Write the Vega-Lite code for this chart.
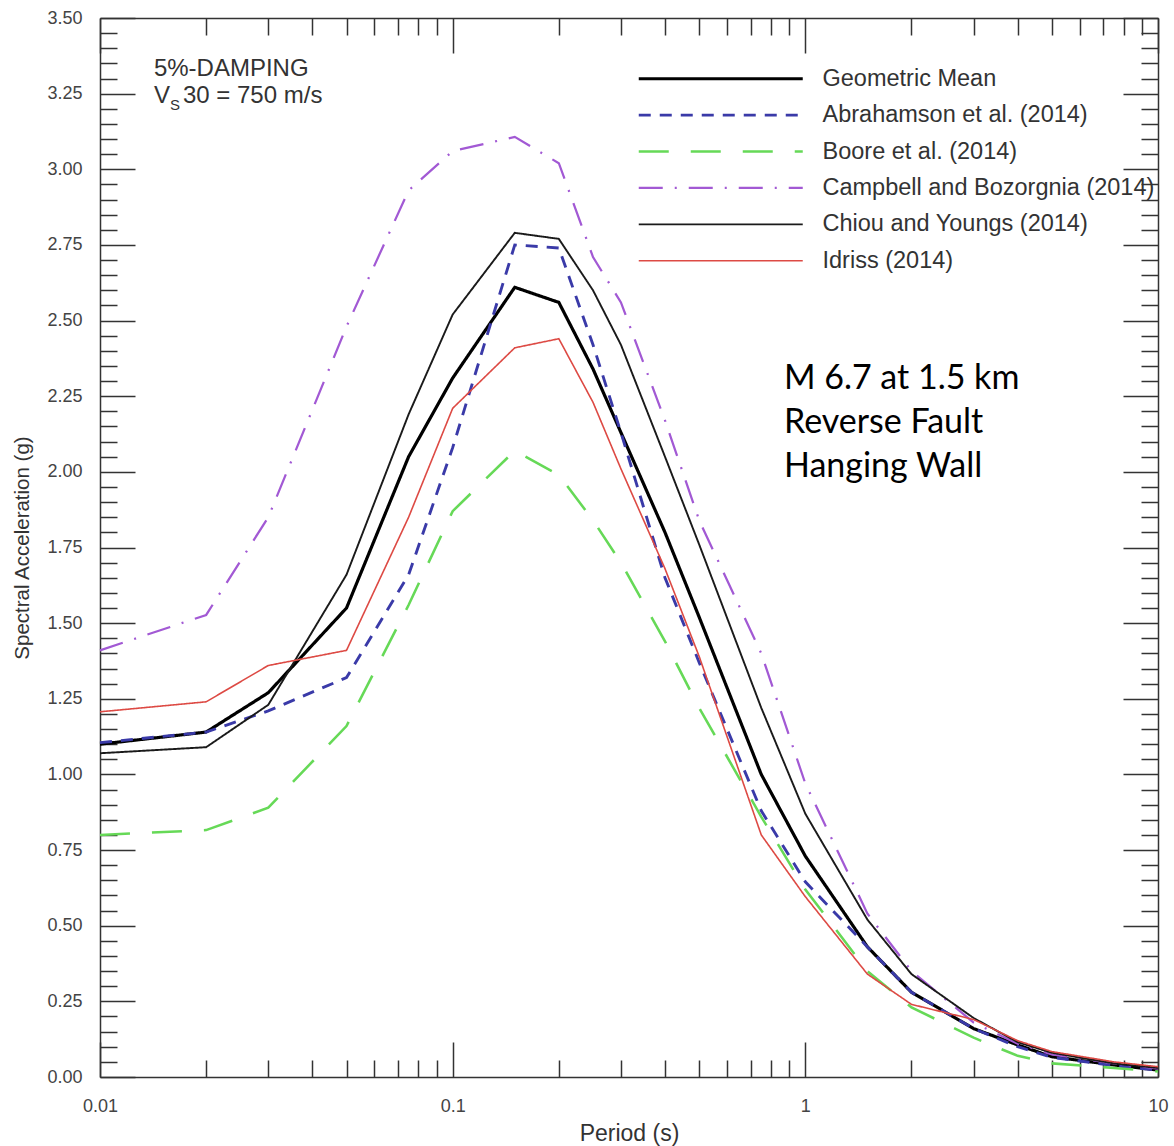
{
  "$schema": "https://vega.github.io/schema/vega-lite/v6.json",
  "width": 1058,
  "height": 1059,
  "autosize": "none",
  "padding": {"left": 100, "top": 18, "right": 16, "bottom": 69},
  "background": "white",
  "config": {"view": {"stroke": null}, "font": "Liberation Sans"},
  "datasets": {
    "spectra": [
      {"model":"Geometric Mean","T":0.01,"SA":1.10},{"model":"Geometric Mean","T":0.02,"SA":1.14},{"model":"Geometric Mean","T":0.03,"SA":1.27},{"model":"Geometric Mean","T":0.05,"SA":1.55},{"model":"Geometric Mean","T":0.075,"SA":2.05},{"model":"Geometric Mean","T":0.1,"SA":2.31},{"model":"Geometric Mean","T":0.15,"SA":2.61},{"model":"Geometric Mean","T":0.2,"SA":2.56},{"model":"Geometric Mean","T":0.25,"SA":2.34},{"model":"Geometric Mean","T":0.3,"SA":2.13},{"model":"Geometric Mean","T":0.4,"SA":1.80},{"model":"Geometric Mean","T":0.5,"SA":1.52},{"model":"Geometric Mean","T":0.75,"SA":1.00},{"model":"Geometric Mean","T":1,"SA":0.73},{"model":"Geometric Mean","T":1.5,"SA":0.43},{"model":"Geometric Mean","T":2,"SA":0.28},{"model":"Geometric Mean","T":3,"SA":0.16},{"model":"Geometric Mean","T":4,"SA":0.106},{"model":"Geometric Mean","T":5,"SA":0.067},{"model":"Geometric Mean","T":7.5,"SA":0.04},{"model":"Geometric Mean","T":10,"SA":0.023},
      {"model":"Abrahamson et al. (2014)","T":0.01,"SA":1.105},{"model":"Abrahamson et al. (2014)","T":0.02,"SA":1.14},{"model":"Abrahamson et al. (2014)","T":0.03,"SA":1.21},{"model":"Abrahamson et al. (2014)","T":0.05,"SA":1.32},{"model":"Abrahamson et al. (2014)","T":0.075,"SA":1.66},{"model":"Abrahamson et al. (2014)","T":0.1,"SA":2.08},{"model":"Abrahamson et al. (2014)","T":0.15,"SA":2.75},{"model":"Abrahamson et al. (2014)","T":0.2,"SA":2.74},{"model":"Abrahamson et al. (2014)","T":0.25,"SA":2.42},{"model":"Abrahamson et al. (2014)","T":0.3,"SA":2.13},{"model":"Abrahamson et al. (2014)","T":0.4,"SA":1.65},{"model":"Abrahamson et al. (2014)","T":0.5,"SA":1.37},{"model":"Abrahamson et al. (2014)","T":0.75,"SA":0.88},{"model":"Abrahamson et al. (2014)","T":1,"SA":0.645},{"model":"Abrahamson et al. (2014)","T":1.5,"SA":0.43},{"model":"Abrahamson et al. (2014)","T":2,"SA":0.28},{"model":"Abrahamson et al. (2014)","T":3,"SA":0.16},{"model":"Abrahamson et al. (2014)","T":4,"SA":0.10},{"model":"Abrahamson et al. (2014)","T":5,"SA":0.065},{"model":"Abrahamson et al. (2014)","T":7.5,"SA":0.038},{"model":"Abrahamson et al. (2014)","T":10,"SA":0.022},
      {"model":"Boore et al. (2014)","T":0.01,"SA":0.80},{"model":"Boore et al. (2014)","T":0.02,"SA":0.816},{"model":"Boore et al. (2014)","T":0.03,"SA":0.89},{"model":"Boore et al. (2014)","T":0.05,"SA":1.16},{"model":"Boore et al. (2014)","T":0.075,"SA":1.56},{"model":"Boore et al. (2014)","T":0.1,"SA":1.87},{"model":"Boore et al. (2014)","T":0.15,"SA":2.07},{"model":"Boore et al. (2014)","T":0.2,"SA":1.99},{"model":"Boore et al. (2014)","T":0.25,"SA":1.84},{"model":"Boore et al. (2014)","T":0.3,"SA":1.70},{"model":"Boore et al. (2014)","T":0.4,"SA":1.44},{"model":"Boore et al. (2014)","T":0.5,"SA":1.22},{"model":"Boore et al. (2014)","T":0.75,"SA":0.86},{"model":"Boore et al. (2014)","T":1,"SA":0.62},{"model":"Boore et al. (2014)","T":1.5,"SA":0.35},{"model":"Boore et al. (2014)","T":2,"SA":0.23},{"model":"Boore et al. (2014)","T":3,"SA":0.13},{"model":"Boore et al. (2014)","T":4,"SA":0.07},{"model":"Boore et al. (2014)","T":5,"SA":0.045},{"model":"Boore et al. (2014)","T":7.5,"SA":0.03},{"model":"Boore et al. (2014)","T":10,"SA":0.018},
      {"model":"Campbell and Bozorgnia (2014)","T":0.01,"SA":1.41},{"model":"Campbell and Bozorgnia (2014)","T":0.02,"SA":1.527},{"model":"Campbell and Bozorgnia (2014)","T":0.03,"SA":1.85},{"model":"Campbell and Bozorgnia (2014)","T":0.05,"SA":2.48},{"model":"Campbell and Bozorgnia (2014)","T":0.075,"SA":2.93},{"model":"Campbell and Bozorgnia (2014)","T":0.1,"SA":3.06},{"model":"Campbell and Bozorgnia (2014)","T":0.15,"SA":3.107},{"model":"Campbell and Bozorgnia (2014)","T":0.2,"SA":3.02},{"model":"Campbell and Bozorgnia (2014)","T":0.25,"SA":2.71},{"model":"Campbell and Bozorgnia (2014)","T":0.3,"SA":2.56},{"model":"Campbell and Bozorgnia (2014)","T":0.4,"SA":2.17},{"model":"Campbell and Bozorgnia (2014)","T":0.5,"SA":1.84},{"model":"Campbell and Bozorgnia (2014)","T":0.75,"SA":1.40},{"model":"Campbell and Bozorgnia (2014)","T":1,"SA":0.97},{"model":"Campbell and Bozorgnia (2014)","T":1.5,"SA":0.54},{"model":"Campbell and Bozorgnia (2014)","T":2,"SA":0.35},{"model":"Campbell and Bozorgnia (2014)","T":3,"SA":0.18},{"model":"Campbell and Bozorgnia (2014)","T":4,"SA":0.11},{"model":"Campbell and Bozorgnia (2014)","T":5,"SA":0.075},{"model":"Campbell and Bozorgnia (2014)","T":7.5,"SA":0.045},{"model":"Campbell and Bozorgnia (2014)","T":10,"SA":0.028},
      {"model":"Chiou and Youngs (2014)","T":0.01,"SA":1.07},{"model":"Chiou and Youngs (2014)","T":0.02,"SA":1.09},{"model":"Chiou and Youngs (2014)","T":0.03,"SA":1.23},{"model":"Chiou and Youngs (2014)","T":0.05,"SA":1.66},{"model":"Chiou and Youngs (2014)","T":0.075,"SA":2.19},{"model":"Chiou and Youngs (2014)","T":0.1,"SA":2.52},{"model":"Chiou and Youngs (2014)","T":0.15,"SA":2.79},{"model":"Chiou and Youngs (2014)","T":0.2,"SA":2.77},{"model":"Chiou and Youngs (2014)","T":0.25,"SA":2.60},{"model":"Chiou and Youngs (2014)","T":0.3,"SA":2.42},{"model":"Chiou and Youngs (2014)","T":0.4,"SA":2.05},{"model":"Chiou and Youngs (2014)","T":0.5,"SA":1.76},{"model":"Chiou and Youngs (2014)","T":0.75,"SA":1.22},{"model":"Chiou and Youngs (2014)","T":1,"SA":0.87},{"model":"Chiou and Youngs (2014)","T":1.5,"SA":0.52},{"model":"Chiou and Youngs (2014)","T":2,"SA":0.34},{"model":"Chiou and Youngs (2014)","T":3,"SA":0.195},{"model":"Chiou and Youngs (2014)","T":4,"SA":0.115},{"model":"Chiou and Youngs (2014)","T":5,"SA":0.08},{"model":"Chiou and Youngs (2014)","T":7.5,"SA":0.045},{"model":"Chiou and Youngs (2014)","T":10,"SA":0.03},
      {"model":"Idriss (2014)","T":0.01,"SA":1.207},{"model":"Idriss (2014)","T":0.02,"SA":1.24},{"model":"Idriss (2014)","T":0.03,"SA":1.36},{"model":"Idriss (2014)","T":0.05,"SA":1.41},{"model":"Idriss (2014)","T":0.075,"SA":1.85},{"model":"Idriss (2014)","T":0.1,"SA":2.21},{"model":"Idriss (2014)","T":0.15,"SA":2.41},{"model":"Idriss (2014)","T":0.2,"SA":2.44},{"model":"Idriss (2014)","T":0.25,"SA":2.23},{"model":"Idriss (2014)","T":0.3,"SA":2.01},{"model":"Idriss (2014)","T":0.4,"SA":1.68},{"model":"Idriss (2014)","T":0.5,"SA":1.39},{"model":"Idriss (2014)","T":0.75,"SA":0.80},{"model":"Idriss (2014)","T":1,"SA":0.596},{"model":"Idriss (2014)","T":1.5,"SA":0.34},{"model":"Idriss (2014)","T":2,"SA":0.24},{"model":"Idriss (2014)","T":3,"SA":0.19},{"model":"Idriss (2014)","T":4,"SA":0.12},{"model":"Idriss (2014)","T":5,"SA":0.084},{"model":"Idriss (2014)","T":7.5,"SA":0.05},{"model":"Idriss (2014)","T":10,"SA":0.034}
    ],
    "notesMain": [
      {"T":0.01422,"SA":3.308,"txt":"5%-DAMPING"},
      {"T":0.01422,"SA":3.219,"txt":"V"},
      {"T":0.01719,"SA":3.219,"txt":"30 = 750 m/s"}
    ],
    "notesSub": [
      {"T":0.01579,"SA":3.196,"txt":"S"}
    ],
    "notesCase": [
      {"T":0.8696,"SA":2.2726,"txt":"M 6.7 at 1.5 km"},
      {"T":0.8696,"SA":2.128,"txt":"Reverse Fault"},
      {"T":0.8696,"SA":1.984,"txt":"Hanging Wall"}
    ]
  },
  "layer": [
    {
      "data": {"name": "spectra"},
      "mark": {"type": "line", "interpolate": "linear"},
      "encoding": {
        "x": {
          "field": "T", "type": "quantitative",
          "scale": {"type": "log", "domain": [0.01, 10], "nice": false},
          "axis": {
            "orient": "bottom",
            "title": "Period (s)", "titleFont": "Liberation Sans", "titleFontSize": 23, "titleFontWeight": "normal", "titleColor": "#333", "titlePadding": -11,
            "values": [0.01,0.02,0.03,0.04,0.05,0.06,0.07,0.08,0.09,0.1,0.2,0.3,0.4,0.5,0.6,0.7,0.8,0.9,1,2,3,4,5,6,7,8,9,10],
            "labelExpr": "abs(log(datum.value)/LN10 - round(log(datum.value)/LN10)) < 0.001 ? format(datum.value, '~g') : ''",
            "labelFont": "Liberation Sans", "labelFontSize": 18, "labelColor": "#444", "labelFlush": false, "labelOverlap": false, "labelBound": false,
            "labelPadding": 55,
            "tickSize": {"condition": {"test": "abs(log(datum.value)/LN10 - round(log(datum.value)/LN10)) < 0.001", "value": -35}, "value": -17},
            "tickColor": "#333", "tickWidth": 1.5,
            "domainColor": "#333", "domainWidth": 1.5, "grid": false
          }
        },
        "y": {
          "field": "SA", "type": "quantitative",
          "scale": {"domain": [0, 3.5], "nice": false},
          "axis": {
            "orient": "left",
            "title": "Spectral Acceleration (g)", "titleFont": "Liberation Sans", "titleFontSize": 20.5, "titleFontWeight": "normal", "titleColor": "#333", "titlePadding": 14,
            "values": [0,0.05,0.1,0.15,0.2,0.25,0.3,0.35,0.4,0.45,0.5,0.55,0.6,0.65,0.7,0.75,0.8,0.85,0.9,0.95,1,1.05,1.1,1.15,1.2,1.25,1.3,1.35,1.4,1.45,1.5,1.55,1.6,1.65,1.7,1.75,1.8,1.85,1.9,1.95,2,2.05,2.1,2.15,2.2,2.25,2.3,2.35,2.4,2.45,2.5,2.55,2.6,2.65,2.7,2.75,2.8,2.85,2.9,2.95,3,3.05,3.1,3.15,3.2,3.25,3.3,3.35,3.4,3.45,3.5],
            "labelExpr": "abs(datum.value*4 - round(datum.value*4)) < 0.001 ? format(datum.value, '.2f') : ''",
            "labelFont": "Liberation Sans", "labelFontSize": 18, "labelColor": "#444", "labelFlush": false, "labelOverlap": false, "labelBound": false,
            "labelPadding": 53,
            "tickSize": {"condition": {"test": "abs(datum.value*4 - round(datum.value*4)) < 0.001", "value": -35}, "value": -17},
            "tickColor": "#333", "tickWidth": 1.5,
            "domainColor": "#333", "domainWidth": 1.5, "grid": false
          }
        },
        "color": {
          "field": "model", "type": "nominal",
          "scale": {
            "domain": ["Geometric Mean","Abrahamson et al. (2014)","Boore et al. (2014)","Campbell and Bozorgnia (2014)","Chiou and Youngs (2014)","Idriss (2014)"],
            "range": ["#000000","#3a3aa8","#66d957","#a259d4","#1a1a1a","#dd4a44"]
          },
          "legend": {"title": null, "orient": "none", "legendX": 527, "legendY": 49, "symbolType": "M0,0H32.8", "symbolSize": 100, "labelFont": "Liberation Sans", "labelFontSize": 23.5, "labelColor": "#333", "labelOffset": 172, "rowPadding": 11.4, "labelLimit": 500}
        },
        "strokeDash": {
          "field": "model", "type": "nominal",
          "scale": {
            "domain": ["Geometric Mean","Abrahamson et al. (2014)","Boore et al. (2014)","Campbell and Bozorgnia (2014)","Chiou and Youngs (2014)","Idriss (2014)"],
            "range": [[1,0],[12,9],[30,22],[24,12,2,12],[1,0],[1,0]]
          },
          "legend": {"title": null, "orient": "none", "legendX": 527, "legendY": 49, "symbolType": "M0,0H32.8", "symbolSize": 100, "labelFont": "Liberation Sans", "labelFontSize": 23.5, "labelColor": "#333", "labelOffset": 172, "rowPadding": 11.4, "labelLimit": 500}
        },
        "strokeWidth": {
          "field": "model", "type": "nominal",
          "scale": {
            "domain": ["Geometric Mean","Abrahamson et al. (2014)","Boore et al. (2014)","Campbell and Bozorgnia (2014)","Chiou and Youngs (2014)","Idriss (2014)"],
            "range": [3.2,1.6,1.6,1.6,1.3,1.5]
          },
          "legend": {"title": null, "orient": "none", "legendX": 527, "legendY": 49, "symbolType": "M0,0H32.8", "symbolSize": 100, "labelFont": "Liberation Sans", "labelFontSize": 23.5, "labelColor": "#333", "labelOffset": 172, "rowPadding": 11.4, "labelLimit": 500}
        }
      }
    },
    {
      "data": {"name": "spectra"},
      "mark": {"type": "point", "opacity": 0},
      "encoding": {
        "x": {
          "field": "T", "type": "quantitative",
          "axis": {
            "orient": "top", "title": null, "labels": false,
            "values": [0.01,0.02,0.03,0.04,0.05,0.06,0.07,0.08,0.09,0.1,0.2,0.3,0.4,0.5,0.6,0.7,0.8,0.9,1,2,3,4,5,6,7,8,9,10],
            "tickSize": {"condition": {"test": "abs(log(datum.value)/LN10 - round(log(datum.value)/LN10)) < 0.001", "value": -35}, "value": -17},
            "tickColor": "#333", "tickWidth": 1.5,
            "domainColor": "#333", "domainWidth": 1.5, "grid": false
          }
        },
        "y": {
          "field": "SA", "type": "quantitative",
          "axis": {
            "orient": "right", "title": null, "labels": false,
            "values": [0,0.05,0.1,0.15,0.2,0.25,0.3,0.35,0.4,0.45,0.5,0.55,0.6,0.65,0.7,0.75,0.8,0.85,0.9,0.95,1,1.05,1.1,1.15,1.2,1.25,1.3,1.35,1.4,1.45,1.5,1.55,1.6,1.65,1.7,1.75,1.8,1.85,1.9,1.95,2,2.05,2.1,2.15,2.2,2.25,2.3,2.35,2.4,2.45,2.5,2.55,2.6,2.65,2.7,2.75,2.8,2.85,2.9,2.95,3,3.05,3.1,3.15,3.2,3.25,3.3,3.35,3.4,3.45,3.5],
            "tickSize": {"condition": {"test": "abs(datum.value*4 - round(datum.value*4)) < 0.001", "value": -35}, "value": -17},
            "tickColor": "#333", "tickWidth": 1.5,
            "domainColor": "#333", "domainWidth": 1.5, "grid": false
          }
        }
      }
    },
    {
      "data": {"name": "notesMain"},
      "mark": {"type": "text", "align": "left", "baseline": "alphabetic", "font": "Liberation Sans", "fontSize": 24, "color": "#333"},
      "encoding": {
        "x": {"field": "T", "type": "quantitative", "axis": null},
        "y": {"field": "SA", "type": "quantitative", "axis": null},
        "text": {"field": "txt"}
      }
    },
    {
      "data": {"name": "notesSub"},
      "mark": {"type": "text", "align": "left", "baseline": "alphabetic", "font": "Liberation Sans", "fontSize": 15, "color": "#333"},
      "encoding": {
        "x": {"field": "T", "type": "quantitative", "axis": null},
        "y": {"field": "SA", "type": "quantitative", "axis": null},
        "text": {"field": "txt"}
      }
    },
    {
      "data": {"name": "notesCase"},
      "mark": {"type": "text", "align": "left", "baseline": "alphabetic", "font": "Lato", "fontSize": 34, "color": "#000"},
      "encoding": {
        "x": {"field": "T", "type": "quantitative", "axis": null},
        "y": {"field": "SA", "type": "quantitative", "axis": null},
        "text": {"field": "txt"}
      }
    }
  ],
  "resolve": {"scale": {"x": "shared", "y": "shared"}, "axis": {"x": "independent", "y": "independent"}}
}
